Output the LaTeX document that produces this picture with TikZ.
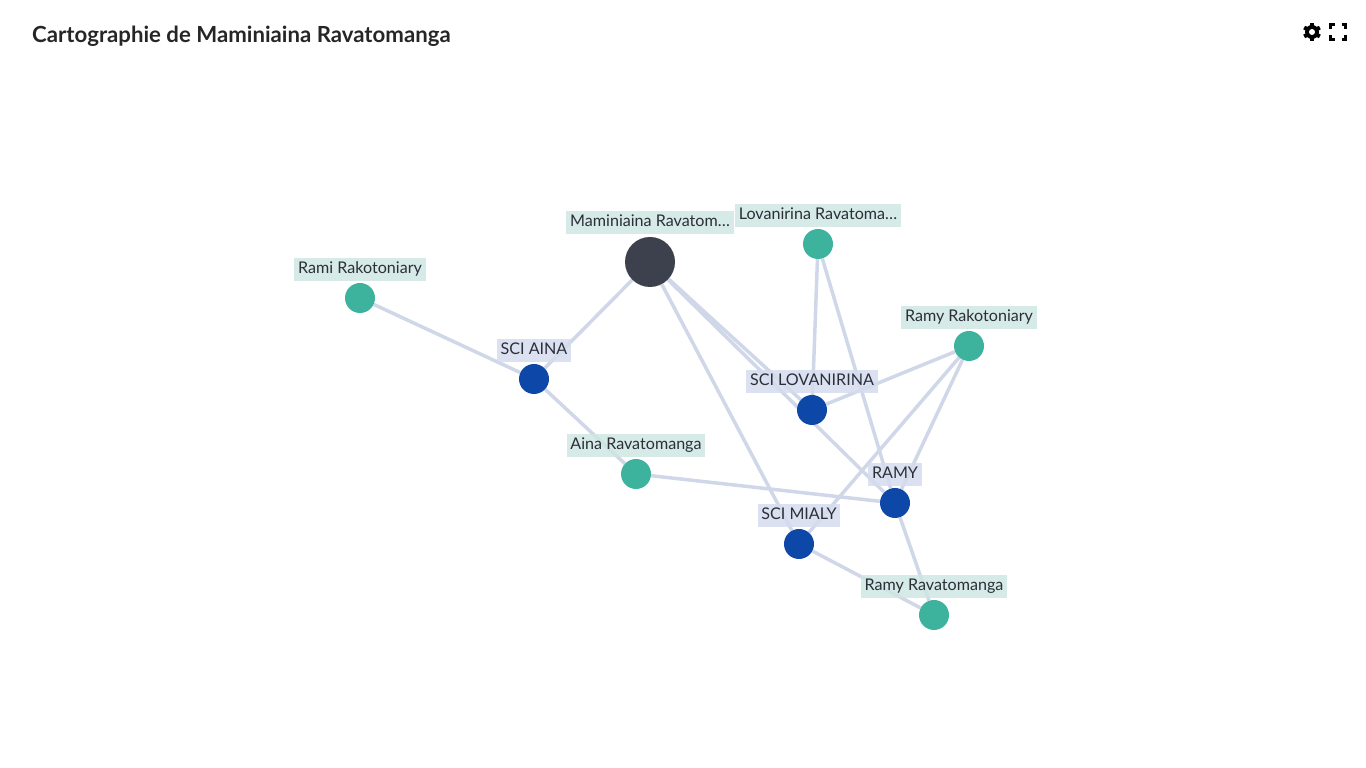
\documentclass[tikz,border=0pt]{standalone}
\usepackage{fontspec}
\setmainfont{Lato}
\usetikzlibrary{backgrounds}
\definecolor{edgeblue}{HTML}{D0D7E8}
\definecolor{persongreen}{HTML}{3DB39E}
\definecolor{companyblue}{HTML}{0D47A8}
\definecolor{rootgrey}{HTML}{3D414D}
\definecolor{personlabel}{HTML}{CFE6E3}
\definecolor{companylabel}{HTML}{D5DCEE}
\definecolor{labeltext}{HTML}{2B2F38}
\tikzset{
    person/.style={circle,fill=persongreen,minimum size=30pt,inner sep=0pt},
    company/.style={circle,fill=companyblue,minimum size=30pt,inner sep=0pt},
    root/.style={circle,fill=rootgrey,minimum size=50pt,inner sep=0pt},
    lab/.style={font=\fontsize{16.1}{19}\selectfont,text=labeltext,fill opacity=0.85,text opacity=1,inner xsep=3.7pt,inner ysep=3.5pt,text height=11.5pt,text depth=4.5pt},
    personlab/.style={lab,fill=personlabel},
    companylab/.style={lab,fill=companylabel},
    edge/.style={draw=edgeblue,line width=3.5pt},
}
\begin{document}
\begin{tikzpicture}[x=1pt,y=1pt,node distance=28pt]
            \useasboundingbox (0,0) rectangle (1366,768);
            \node[anchor=west,font=\bfseries\fontsize{22.2}{26}\selectfont,text=black!85,inner sep=0pt] (title) at (32,731.7) {Cartographie de Maminiaina Ravatomanga};
            \node[root]    (mam)   at (650,506) {};
            \node[person]  (lov)   at (818,524) {};
            \node[person]  (rami)  at (360,470) {};
            \node[person]  (ramyr) at (969,422) {};
            \node[person]  (aina)  at (636,294) {};
            \node[person]  (rav)   at (934,153) {};
            \node[company] (sciaina) at (534,389) {};
            \node[company] (scilov)  at (812,358) {};
            \node[company] (ramy)    at (895,265) {};
            \node[company] (mialy)   at (799,224) {};
            \begin{scope}[on background layer]
                \draw[edge] (rami) -- (sciaina);
                \draw[edge] (mam) -- (sciaina);
                \draw[edge] (sciaina) -- (aina);
                \draw[edge] (aina) -- (ramy);
                \draw[edge] (mam) -- (scilov);
                \draw[edge] (mam) -- (ramy);
                \draw[edge] (mam) -- (mialy);
                \draw[edge] (lov) -- (scilov);
                \draw[edge] (lov) -- (ramy);
                \draw[edge] (ramyr) -- (scilov);
                \draw[edge] (ramyr) -- (ramy);
                \draw[edge] (ramyr) -- (mialy);
                \draw[edge] (mialy) -- (rav);
                \draw[edge] (ramy) -- (rav);
            \end{scope}
            \node[personlab,node distance=39pt] (mamlab) [above of=mam] {Maminiaina Ravatom…};
            \node[personlab]  (lovlab)   [above of=lov]   {Lovanirina Ravatoma…};
            \node[personlab]  (ramilab)  [above of=rami]  {Rami Rakotoniary};
            \node[personlab]  (ramyrlab) [above of=ramyr] {Ramy Rakotoniary};
            \node[personlab]  (ainalab)  [above of=aina]  {Aina Ravatomanga};
            \node[personlab]  (ravlab)   [above of=rav]   {Ramy Ravatomanga};
            \node[companylab] (sciainalab) [above of=sciaina] {SCI AINA};
            \node[companylab] (scilovlab)  [above of=scilov]  {SCI LOVANIRINA};
            \node[companylab] (ramylab)    [above of=ramy]    {RAMY};
            \node[companylab] (mialylab)   [above of=mialy]   {SCI MIALY};
            % toolbar icons
            \coordinate (gear) at (1312,736);
            \foreach \a in {0,60,120} {
                \draw[black,line width=4pt,rotate around={\a:(gear)}] ([yshift=-9pt]gear) -- ([yshift=9pt]gear);
            }
            \fill[black] (gear) circle (7pt);
            \fill[white] (gear) circle (3pt);
            \coordinate (full) at (1338,736);
            \draw[black,line width=2.2pt] ([shift={(-7.5,3)}]full) -- ++(0,4.5) -- ++(4,0);
            \draw[black,line width=2.2pt] ([shift={(3.5,7.5)}]full) -- ++(4,0) -- ++(0,-4.5);
            \draw[black,line width=2.2pt] ([shift={(7.5,-3)}]full) -- ++(0,-4.5) -- ++(-4,0);
            \draw[black,line width=2.2pt] ([shift={(-3.5,-7.5)}]full) -- ++(-4,0) -- ++(0,4.5);
        \end{tikzpicture}
\end{document}
